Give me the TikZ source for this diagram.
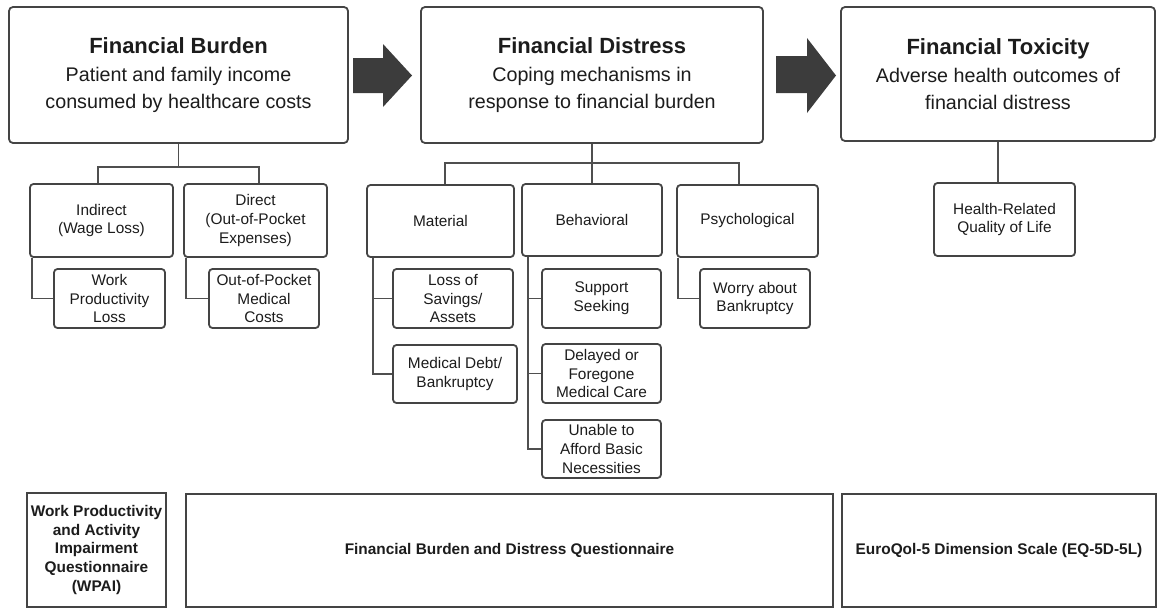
\documentclass[tikz,border=0pt]{standalone}
\usepackage{fontspec}
\setmainfont{Liberation Sans}
\definecolor{edge}{HTML}{444444}
\definecolor{linec}{HTML}{4F4F4F}
\definecolor{arrowc}{HTML}{3C3C3C}
\definecolor{txt}{HTML}{1C1C1C}
\tikzset{
  topbox/.style={draw=edge, line width=1.8pt, rounded corners=4pt, fill=white, align=center, text=txt, inner sep=0pt, font=\fontsize{19.7}{27}\selectfont},
  subbox/.style={draw=edge, line width=1.8pt, rounded corners=3.5pt, fill=white, align=center, text=txt, inner sep=0pt, font=\fontsize{15.4}{18.8}\selectfont},
  measbox/.style={draw=edge, line width=1.8pt, fill=white, align=center, text=txt, inner sep=0pt, font=\bfseries\fontsize{15.4}{18.7}\selectfont},
  conn/.style={draw=linec, line width=1.8pt},
  bigarrow/.style={fill=arrowc},
  ttl/.style={}
}
\newcommand{\boxtitle}[1]{{\fontsize{22}{26}\selectfont\bfseries #1}\\[1pt]}
\begin{document}
\begin{tikzpicture}[x=1pt,y=-1pt]
\useasboundingbox (0,0) rectangle (1157,608);

% top level boxes
\node[topbox, minimum width=339pt, minimum height=136pt] (fb) at (178.5,75)
  {\boxtitle{Financial Burden}Patient and family income\\consumed by healthcare costs};
\node[topbox, minimum width=342pt, minimum height=136pt] (fd) at (592,75)
  {\boxtitle{Financial Distress}Coping mechanisms in\\response to financial burden};
\node[topbox, minimum width=314pt, minimum height=134pt] (ft) at (998,74)
  {\boxtitle{Financial Toxicity}Adverse health outcomes of\\financial distress};

% big arrows
\fill[bigarrow] (353,58) -- (383,58) -- (383,44) -- (412,75.5) -- (383,107) -- (383,93) -- (353,93) -- cycle;
\fill[bigarrow] (776,56) -- (807,56) -- (807,38) -- (836,75.5) -- (807,113) -- (807,93) -- (776,93) -- cycle;

% second level
\node[subbox, minimum width=143pt, minimum height=73pt] (ind) at (101.5,220.5) {Indirect\\(Wage Loss)};
\node[subbox, minimum width=143pt, minimum height=73pt] (dir) at (255.5,220.5) {Direct\\(Out-of-Pocket\\Expenses)};
\node[subbox, minimum width=147pt, minimum height=72pt] (mat) at (440.5,221) {Material};
\node[subbox, minimum width=140pt, minimum height=72pt] (beh) at (592,220) {Behavioral};
\node[subbox, minimum width=141pt, minimum height=72pt] (psy) at (747.5,221) {Psychological};
\node[subbox, minimum width=141pt, minimum height=73pt] (hrq) at (1004.5,219.5) {Health-Related\\Quality of Life};

% third level
\node[subbox, minimum width=111pt, minimum height=59pt] (wpl) at (109.5,298.5) {Work\\Productivity\\Loss};
\node[subbox, minimum width=110pt, minimum height=59pt] (oop) at (264,298.5) {Out-of-Pocket\\Medical\\Costs};
\node[subbox, minimum width=120pt, minimum height=59pt] (los) at (453,298.5) {Loss of\\Savings/\\Assets};
\node[subbox, minimum width=124pt, minimum height=58pt] (mdb) at (455,374) {Medical Debt/\\Bankruptcy};
\node[subbox, minimum width=119pt, minimum height=59pt] (sup) at (601.5,298.5) {Support\\Seeking};
\node[subbox, minimum width=119pt, minimum height=59pt] (del) at (601.5,373.5) {Delayed or\\Foregone\\Medical Care};
\node[subbox, minimum width=119pt, minimum height=58pt] (una) at (601.5,449) {Unable to\\Afford Basic\\Necessities};
\node[subbox, minimum width=110pt, minimum height=59pt] (wor) at (755,298.5) {Worry about\\Bankruptcy};

% measurement boxes
\node[measbox, minimum width=139pt, minimum height=114pt] (wpai) at (96.5,550) {Work Productivity\\and Activity\\Impairment\\Questionnaire\\(WPAI)};
\node[measbox, minimum width=647pt, minimum height=113pt] (fbdq) at (509.5,550.5) {Financial Burden and Distress Questionnaire};
\node[measbox, minimum width=314pt, minimum height=113pt] (eq) at (999,550.5) {EuroQol-5 Dimension Scale (EQ-5D-5L)};

% connectors from top boxes
\coordinate (fbj) at ([yshift=-23pt]fb.south);
\draw[conn] (fb.south) -- (fbj);
\draw[conn] ([xshift=-3.5pt]ind.north) |- (fbj) -| ([xshift=3.5pt]dir.north);

\coordinate (fdj) at ([yshift=-19pt]fd.south);
\draw[conn] (fd.south) -- (fdj);
\draw[conn] ([xshift=4.5pt]mat.north) |- (fdj) -| ([xshift=-8.5pt]psy.north);
\draw[conn] (fdj) -- (beh.north);

\draw[conn] (ft.south) -- (ft.south |- hrq.north);

% trunks to third level
\draw[conn] ([xshift=3pt]ind.south west) |- (wpl.west);
\draw[conn] ([xshift=3pt]dir.south west) |- (oop.west);
\draw[conn] ([xshift=7pt]mat.south west) |- (los.west);
\draw[conn] ([xshift=7pt]mat.south west) |- (mdb.west);
\draw[conn] ([xshift=7pt]beh.south west) |- (sup.west);
\draw[conn] ([xshift=7pt]beh.south west) |- (del.west);
\draw[conn] ([xshift=7pt]beh.south west) |- (una.west);
\draw[conn] ([xshift=2pt]psy.south west) |- (wor.west);
\end{tikzpicture}
\end{document}
